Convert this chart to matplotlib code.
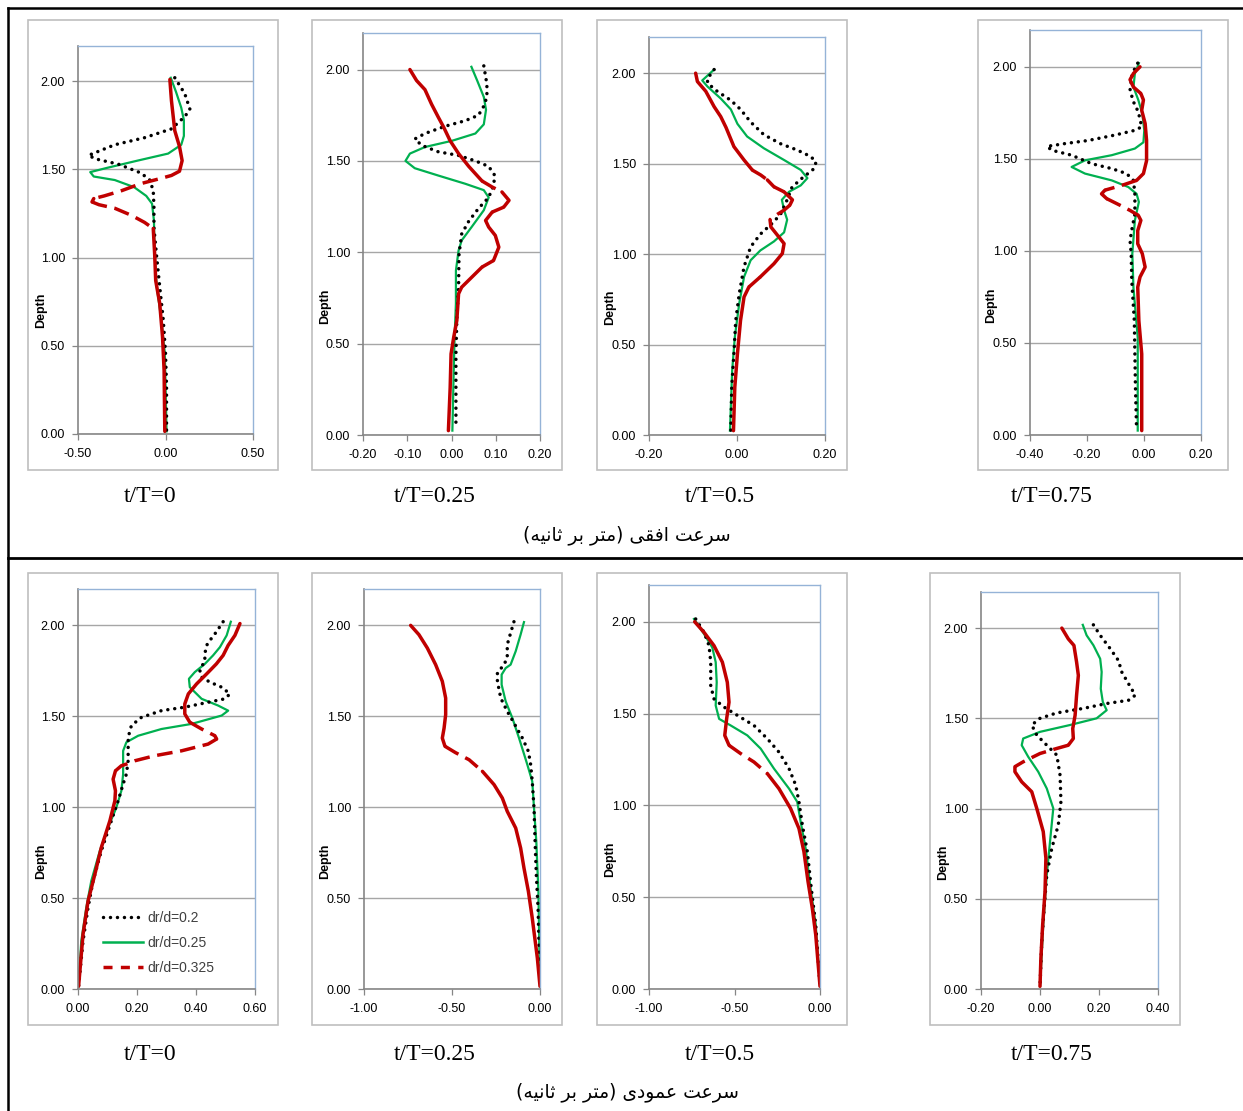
import matplotlib
matplotlib.use("Agg")
import matplotlib.pyplot as plt
import numpy as np
from matplotlib.lines import Line2D
from matplotlib.patches import Rectangle

# ---- horizontal velocity (top row) ----
u0_a_x = [0.053, 0.11, 0.14, 0.11, 0.034, -0.12, -0.29, -0.44, -0.40, -0.27, -0.14, -0.09, -0.07, -0.066, -0.066, -0.052, -0.033, -0.013, 0.0, 0.006, 0.006]
u0_a_d = [2.02, 1.93, 1.84, 1.80, 1.73, 1.68, 1.64, 1.58, 1.56, 1.53, 1.48, 1.44, 1.38, 1.29, 1.17, 1.02, 0.835, 0.65, 0.46, 0.27, 0.015]
u0_b_x = [0.03, 0.06, 0.09, 0.105, 0.105, 0.09, 0.015, -0.16, -0.33, -0.43, -0.41, -0.29, -0.18, -0.11, -0.077, -0.066, -0.062, -0.05, -0.024, -0.004, 0.006]
u0_b_d = [2.02, 1.94, 1.85, 1.78, 1.69, 1.64, 1.59, 1.55, 1.51, 1.485, 1.46, 1.44, 1.40, 1.35, 1.306, 1.21, 1.02, 0.835, 0.65, 0.46, 0.015]
u0_c_x = [0.025, 0.034, 0.053, 0.08, 0.095, 0.08, 0.034, -0.024, -0.14, -0.25, -0.35, -0.41, -0.42, -0.38, -0.29, -0.195, -0.12, -0.07, -0.062, -0.056, -0.033, -0.017, -0.008, -0.004]
u0_c_d = [2.01, 1.89, 1.72, 1.63, 1.55, 1.49, 1.466, 1.45, 1.42, 1.38, 1.35, 1.335, 1.316, 1.30, 1.28, 1.24, 1.20, 1.165, 1.02, 0.87, 0.74, 0.55, 0.36, 0.015]

u25_a_x = [0.073, 0.080, 0.080, 0.073, 0.061, 0.031, -0.014, -0.06, -0.083, -0.067, -0.03, 0.016, 0.054, 0.084, 0.098, 0.095, 0.084, 0.061, 0.039, 0.023, 0.017, 0.016, 0.012, 0.01, 0.01, 0.01]
u25_a_d = [2.02, 1.92, 1.85, 1.80, 1.75, 1.72, 1.69, 1.65, 1.62, 1.585, 1.55, 1.53, 1.50, 1.47, 1.42, 1.366, 1.30, 1.24, 1.17, 1.10, 0.99, 0.81, 0.63, 0.44, 0.26, 0.04]
u25_b_x = [0.045, 0.058, 0.073, 0.078, 0.073, 0.054, 0.001, -0.06, -0.094, -0.104, -0.083, -0.03, 0.031, 0.073, 0.084, 0.073, 0.046, 0.023, 0.016, 0.01, 0.01, 0.007, 0.005, 0.002]
u25_b_d = [2.015, 1.94, 1.85, 1.78, 1.70, 1.65, 1.61, 1.576, 1.54, 1.50, 1.46, 1.42, 1.375, 1.34, 1.30, 1.23, 1.14, 1.065, 1.01, 0.90, 0.72, 0.535, 0.35, 0.024]
u25_c_x = [-0.094, -0.079, -0.06, -0.045, -0.03, -0.018, -0.003, 0.016, 0.039, 0.069, 0.092, 0.114, 0.13, 0.118, 0.092, 0.077, 0.084, 0.099, 0.107, 0.095, 0.069, 0.046, 0.023, 0.016, 0.012, 0.005, -0.001, -0.003, -0.007]
u25_c_d = [2.00, 1.94, 1.89, 1.81, 1.74, 1.686, 1.61, 1.54, 1.47, 1.39, 1.357, 1.33, 1.284, 1.247, 1.22, 1.174, 1.138, 1.092, 1.028, 0.955, 0.919, 0.864, 0.809, 0.773, 0.626, 0.535, 0.444, 0.26, 0.024]

u50_a_x = [-0.052, -0.067, -0.067, -0.045, -0.014, 0.008, 0.031, 0.061, 0.099, 0.137, 0.167, 0.18, 0.174, 0.148, 0.125, 0.114, 0.099, 0.08, 0.053, 0.031, 0.016, 0.005, -0.003, -0.007, -0.012, -0.014]
u50_a_d = [2.02, 1.97, 1.945, 1.90, 1.85, 1.80, 1.73, 1.66, 1.61, 1.575, 1.54, 1.51, 1.47, 1.42, 1.37, 1.30, 1.22, 1.17, 1.11, 1.04, 0.93, 0.78, 0.63, 0.45, 0.264, 0.024]
u50_b_x = [-0.052, -0.079, -0.067, -0.037, -0.014, 0.001, 0.023, 0.061, 0.107, 0.145, 0.16, 0.145, 0.118, 0.102, 0.107, 0.114, 0.107, 0.084, 0.053, 0.031, 0.016, 0.005, -0.005, -0.011, -0.016]
u50_b_d = [2.02, 1.96, 1.926, 1.86, 1.80, 1.72, 1.65, 1.585, 1.52, 1.465, 1.42, 1.38, 1.344, 1.30, 1.243, 1.19, 1.12, 1.07, 1.02, 0.966, 0.874, 0.726, 0.54, 0.356, 0.024]
u50_c_x = [-0.094, -0.09, -0.071, -0.052, -0.037, -0.025, -0.007, 0.016, 0.035, 0.054, 0.069, 0.084, 0.107, 0.126, 0.12, 0.107, 0.092, 0.075, 0.077, 0.095, 0.107, 0.103, 0.084, 0.053, 0.027, 0.016, 0.008, 0.001, -0.005, -0.008]
u50_c_d = [2.00, 1.954, 1.90, 1.815, 1.76, 1.70, 1.594, 1.52, 1.464, 1.437, 1.41, 1.372, 1.344, 1.30, 1.27, 1.243, 1.22, 1.19, 1.15, 1.095, 1.058, 1.003, 0.947, 0.874, 0.818, 0.763, 0.633, 0.449, 0.264, 0.024]

u75_a_x = [-0.022, -0.041, -0.049, -0.037, -0.02, -0.008, -0.032, -0.10, -0.195, -0.277, -0.34, -0.324, -0.254, -0.184, -0.113, -0.061, -0.037, -0.032, -0.032, -0.041, -0.049, -0.045, -0.043, -0.034, -0.032, -0.03, -0.026]
u75_a_d = [2.02, 1.964, 1.873, 1.81, 1.755, 1.674, 1.655, 1.63, 1.60, 1.583, 1.568, 1.547, 1.52, 1.474, 1.447, 1.42, 1.383, 1.31, 1.20, 1.13, 1.057, 0.985, 0.84, 0.62, 0.44, 0.26, 0.024]
u75_b_x = [-0.018, -0.032, -0.037, -0.02, -0.006, 0.001, -0.002, -0.032, -0.113, -0.207, -0.254, -0.207, -0.113, -0.055, -0.026, -0.018, -0.032, -0.041, -0.037, -0.022, -0.022]
u75_b_d = [2.02, 1.964, 1.89, 1.82, 1.746, 1.655, 1.59, 1.556, 1.52, 1.492, 1.456, 1.42, 1.383, 1.347, 1.31, 1.266, 1.166, 0.985, 0.80, 0.53, 0.024]
u75_c_x = [-0.014, -0.037, -0.049, -0.037, -0.011, -0.002, -0.008, 0.004, 0.009, 0.009, -0.002, -0.026, -0.078, -0.137, -0.149, -0.131, -0.084, -0.049, -0.02, -0.011, -0.022, -0.022, -0.006, 0.004, -0.014, -0.022, -0.018, -0.008, -0.008]
u75_c_d = [2.00, 1.964, 1.93, 1.89, 1.855, 1.82, 1.764, 1.692, 1.60, 1.49, 1.42, 1.383, 1.356, 1.33, 1.31, 1.284, 1.248, 1.22, 1.193, 1.166, 1.11, 1.039, 0.985, 0.912, 0.858, 0.803, 0.62, 0.44, 0.024]

# ---- vertical velocity (bottom row) ----
w0_a_x = [0.492, 0.469, 0.447, 0.436, 0.43, 0.43, 0.413, 0.419, 0.447, 0.487, 0.515, 0.498, 0.441, 0.362, 0.283, 0.215, 0.181, 0.17, 0.17, 0.164, 0.153, 0.136, 0.113, 0.079, 0.051, 0.034, 0.017, 0.002]
w0_a_d = [2.02, 1.964, 1.917, 1.89, 1.844, 1.807, 1.752, 1.715, 1.688, 1.66, 1.623, 1.596, 1.577, 1.55, 1.531, 1.494, 1.449, 1.384, 1.255, 1.182, 1.127, 1.035, 0.925, 0.76, 0.594, 0.447, 0.263, 0.015]
w0_b_x = [0.518, 0.504, 0.481, 0.458, 0.43, 0.396, 0.376, 0.379, 0.419, 0.475, 0.509, 0.487, 0.385, 0.283, 0.204, 0.164, 0.153, 0.153, 0.147, 0.13, 0.102, 0.074, 0.045, 0.028, 0.011, 0.002]
w0_b_d = [2.02, 1.945, 1.88, 1.835, 1.788, 1.743, 1.706, 1.66, 1.596, 1.559, 1.531, 1.504, 1.458, 1.43, 1.393, 1.357, 1.31, 1.182, 1.09, 0.998, 0.888, 0.76, 0.594, 0.447, 0.263, 0.015]
w0_c_x = [0.549, 0.532, 0.509, 0.492, 0.469, 0.436, 0.402, 0.374, 0.362, 0.362, 0.379, 0.419, 0.464, 0.47, 0.441, 0.351, 0.26, 0.192, 0.164, 0.147, 0.127, 0.119, 0.127, 0.125, 0.108, 0.079, 0.057, 0.034, 0.017, 0.002]
w0_c_d = [2.01, 1.945, 1.89, 1.835, 1.788, 1.733, 1.678, 1.623, 1.568, 1.513, 1.467, 1.43, 1.393, 1.375, 1.347, 1.31, 1.283, 1.255, 1.237, 1.228, 1.20, 1.154, 1.09, 1.035, 0.925, 0.778, 0.63, 0.483, 0.30, 0.015]

w25_a_x = [-0.148, -0.167, -0.186, -0.186, -0.205, -0.242, -0.242, -0.223, -0.186, -0.148, -0.10, -0.066, -0.053, -0.044, -0.034, -0.028, -0.021, -0.011, -0.006, 0.0]
w25_a_d = [2.02, 1.958, 1.894, 1.82, 1.784, 1.738, 1.692, 1.60, 1.527, 1.463, 1.38, 1.307, 1.234, 1.142, 0.995, 0.812, 0.629, 0.445, 0.262, 0.015]
w25_b_x = [-0.091, -0.11, -0.138, -0.167, -0.195, -0.218, -0.218, -0.195, -0.157, -0.119, -0.072, -0.044, -0.034, -0.021, -0.009, 0.0]
w25_b_d = [2.018, 1.95, 1.858, 1.784, 1.765, 1.729, 1.674, 1.582, 1.49, 1.38, 1.234, 1.142, 0.995, 0.812, 0.537, 0.015]
w25_c_x = [-0.735, -0.688, -0.64, -0.593, -0.555, -0.536, -0.536, -0.545, -0.555, -0.54, -0.48, -0.403, -0.327, -0.261, -0.214, -0.186, -0.138, -0.11, -0.091, -0.066, -0.044, -0.015, 0.0]
w25_c_d = [2.00, 1.949, 1.875, 1.784, 1.692, 1.60, 1.509, 1.435, 1.38, 1.335, 1.30, 1.261, 1.197, 1.124, 1.05, 0.977, 0.885, 0.775, 0.665, 0.537, 0.39, 0.17, 0.015]

w50_a_x = [-0.727, -0.678, -0.649, -0.639, -0.639, -0.62, -0.561, -0.483, -0.386, -0.308, -0.24, -0.181, -0.142, -0.123, -0.103, -0.074, -0.051, -0.025, 0.0]
w50_a_d = [2.015, 1.942, 1.87, 1.78, 1.652, 1.58, 1.535, 1.49, 1.435, 1.363, 1.29, 1.20, 1.11, 1.019, 0.892, 0.748, 0.548, 0.35, 0.015]
w50_b_x = [-0.737, -0.678, -0.63, -0.61, -0.604, -0.61, -0.59, -0.522, -0.425, -0.347, -0.269, -0.181, -0.133, -0.113, -0.084, -0.055, -0.025, 0.0]
w50_b_d = [2.015, 1.933, 1.86, 1.78, 1.67, 1.544, 1.471, 1.435, 1.381, 1.309, 1.20, 1.091, 1.019, 0.91, 0.766, 0.548, 0.35, 0.015]
w50_c_x = [-0.733, -0.678, -0.62, -0.571, -0.542, -0.532, -0.546, -0.557, -0.532, -0.464, -0.386, -0.308, -0.24, -0.172, -0.123, -0.094, -0.07, -0.045, -0.025, 0.0]
w50_c_d = [2.00, 1.942, 1.87, 1.78, 1.67, 1.562, 1.471, 1.381, 1.327, 1.282, 1.236, 1.173, 1.091, 0.983, 0.874, 0.748, 0.585, 0.44, 0.295, 0.015]

w75_a_x = [0.181, 0.204, 0.238, 0.266, 0.277, 0.30, 0.323, 0.30, 0.226, 0.147, 0.057, 0.0, -0.028, -0.011, 0.023, 0.057, 0.068, 0.071, 0.062, 0.04, 0.023, 0.014, 0.006, 0.0]
w75_a_d = [2.018, 1.96, 1.886, 1.82, 1.757, 1.692, 1.628, 1.60, 1.582, 1.555, 1.53, 1.50, 1.463, 1.407, 1.351, 1.296, 1.185, 1.038, 0.909, 0.78, 0.633, 0.448, 0.264, 0.015]
w75_b_x = [0.145, 0.158, 0.181, 0.204, 0.209, 0.206, 0.213, 0.226, 0.192, 0.102, 0.0, -0.057, -0.062, -0.04, -0.006, 0.023, 0.045, 0.034, 0.023, 0.011, 0.0]
w75_b_d = [2.018, 1.96, 1.905, 1.83, 1.757, 1.664, 1.59, 1.545, 1.50, 1.463, 1.425, 1.388, 1.351, 1.287, 1.204, 1.111, 1.001, 0.817, 0.633, 0.356, 0.015]
w75_c_x = [0.074, 0.096, 0.115, 0.124, 0.13, 0.124, 0.119, 0.111, 0.113, 0.096, 0.057, 0.0, -0.057, -0.085, -0.085, -0.062, -0.028, -0.011, 0.011, 0.02, 0.017, 0.009, 0.003, 0.0]
w75_c_d = [2.00, 1.94, 1.904, 1.812, 1.738, 1.628, 1.517, 1.443, 1.388, 1.351, 1.333, 1.305, 1.259, 1.232, 1.204, 1.148, 1.093, 1.001, 0.872, 0.725, 0.54, 0.356, 0.171, 0.015]

series_names = ["dr/d=0.2", "dr/d=0.25", "dr/d=0.325"]
phase_labels = ["t/T=0", "t/T=0.25", "t/T=0.5", "t/T=0.75"]

# Persian captions, written in presentation forms / visual order (no shaping engine here)
title_u = ("(\uFEEA\uFEF4\uFEE7\uFE8E\uFE9B \uFEAE\uFE91 \uFEAE\uFE98\uFEE3) "
           "\uFEF0\uFED8\uFED3\uFE8D \uFE96\uFECB\uFEAE\uFEB3")
title_w = ("(\uFEEA\uFEF4\uFEE7\uFE8E\uFE9B \uFEAE\uFE91 \uFEAE\uFE98\uFEE3) "
           "\uFEEF\uFEA9\uFEEE\uFEE4\uFECB \uFE96\uFECB\uFEAE\uFEB3")

top_series = [(u0_a_x, u0_a_d, u0_b_x, u0_b_d, u0_c_x, u0_c_d),
              (u25_a_x, u25_a_d, u25_b_x, u25_b_d, u25_c_x, u25_c_d),
              (u50_a_x, u50_a_d, u50_b_x, u50_b_d, u50_c_x, u50_c_d),
              (u75_a_x, u75_a_d, u75_b_x, u75_b_d, u75_c_x, u75_c_d)]
bot_series = [(w0_a_x, w0_a_d, w0_b_x, w0_b_d, w0_c_x, w0_c_d),
              (w25_a_x, w25_a_d, w25_b_x, w25_b_d, w25_c_x, w25_c_d),
              (w50_a_x, w50_a_d, w50_b_x, w50_b_d, w50_c_x, w50_c_d),
              (w75_a_x, w75_a_d, w75_b_x, w75_b_d, w75_c_x, w75_c_d)]

# layout in pixels: chart box, plot area, x range / step
W, H = 1243, 1111
top_boxes = [(28, 20, 278, 470), (312, 20, 562, 470), (597, 20, 847, 470), (978, 20, 1228, 470)]
top_plots = [(78, 46, 253, 434), (363, 33, 540, 435), (649, 37, 825, 435), (1030, 30, 1201, 435)]
top_xr = [(-0.5, 0.5, 0.5), (-0.2, 0.2, 0.1), (-0.2, 0.2, 0.2), (-0.4, 0.2, 0.2)]
bot_boxes = [(28, 573, 278, 1025), (312, 573, 562, 1025), (597, 573, 847, 1025), (930, 573, 1180, 1025)]
bot_plots = [(78, 589, 255, 989), (364, 589, 540, 989), (649, 585, 820, 989), (981, 592, 1158, 989)]
bot_xr = [(0.0, 0.6, 0.2), (-1.0, 0.0, 0.5), (-1.0, 0.0, 0.5), (-0.2, 0.4, 0.2)]
label_x = [150, 435, 720, 1052]

RED = "#C00000"
GREEN = "#00B050"
DOTS = dict(color="black", lw=2.5, linestyle=(0, (0.01, 2.0)), dash_capstyle="round")
RED_DASH = (0, (4.5, 2.2))

plt.rcParams["font.family"] = ["Liberation Sans", "DejaVu Sans"]
plt.rcParams["axes.unicode_minus"] = False
fig = plt.figure(figsize=(W / 100, H / 100), dpi=100)


def fx(px):
    return px / W


def fy(py):
    return 1 - py / H


def draw_red(ax, x, d):
    # Excel restarts the dash on each segment: steep parts look solid, flat parts dashed
    pts = ax.transData.transform(np.column_stack([x, d]))
    dx = np.abs(np.diff(pts[:, 0]))
    dy = np.abs(np.diff(pts[:, 1]))
    flat = dx > 1.1 * dy
    i = 0
    n = len(flat)
    while i < n:
        j = i
        while j + 1 < n and flat[j + 1] == flat[i]:
            j += 1
        ls = RED_DASH if flat[i] else "-"
        ax.plot(x[i:j + 2], d[i:j + 2], color=RED, lw=2.5, linestyle=ls,
                solid_capstyle="round", dash_capstyle="butt")
        i = j + 1


def panel(box, plot, xr, series, with_legend=False):
    bl, bt, br, bb = box
    fig.patches.append(Rectangle((fx(bl), fy(bb)), fx(br - bl), (bb - bt) / H,
                                 transform=fig.transFigure, facecolor="white",
                                 edgecolor="#BFBFBF", lw=1.2, zorder=-5))
    pl, pt, pr, pb = plot
    ax = fig.add_axes([fx(pl), fy(pb), fx(pr - pl), (pb - pt) / H], zorder=2)
    ax.patch.set_alpha(0)
    ax.set_xlim(xr[0], xr[1])
    ax.set_ylim(0, 2.2)
    ax.set_xticks(np.round(np.arange(xr[0], xr[1] + 1e-9, xr[2]), 2))
    ax.set_yticks([0, 0.5, 1.0, 1.5, 2.0])
    ax.xaxis.set_major_formatter("{x:.2f}")
    ax.yaxis.set_major_formatter("{x:.2f}")
    ax.tick_params(labelsize=9, length=4.3, width=0.9, color="#868686")
    ax.tick_params(axis="x", pad=6)
    ax.tick_params(axis="y", pad=5)
    ax.grid(axis="y", color="#A6A6A6", lw=1.0)
    ax.set_axisbelow(True)
    for s in ("left", "bottom"):
        ax.spines[s].set_color("#868686")
        ax.spines[s].set_linewidth(1.2)
    for s in ("top", "right"):
        ax.spines[s].set_color("#95B3D7")
        ax.spines[s].set_linewidth(1.0)
    ax.set_ylabel("Depth", fontsize=9, fontweight="bold")
    ax.yaxis.set_label_coords((bl + 19 - pl) / (pr - pl), 0.32)

    ax_, ad, bx, bd, cx, cd = [np.asarray(v) for v in series]
    ax.plot(bx, bd, color=GREEN, lw=1.6)
    ax.plot(ax_, ad, **DOTS)
    draw_red(ax, cx, cd)

    if with_legend:
        handles = [Line2D([], [], **DOTS),
                   Line2D([], [], color=GREEN, lw=1.8),
                   Line2D([], [], color=RED, lw=2.5, linestyle=(0, (2.6, 2.4)))]
        ax.legend(handles, series_names, loc="lower left",
                  bbox_to_anchor=((103 - pl) / (pr - pl), 0.035),
                  frameon=False, fontsize=10, handlelength=2.9, handletextpad=0.3,
                  labelspacing=0.8, labelcolor="#404040", borderpad=0, borderaxespad=0)
    return ax


for k in range(4):
    panel(top_boxes[k], top_plots[k], top_xr[k], top_series[k])
    panel(bot_boxes[k], bot_plots[k], bot_xr[k], bot_series[k], with_legend=(k == 0))
    fig.text(fx(label_x[k]), fy(496), phase_labels[k], ha="center", va="center",
             fontsize=17, family="Liberation Serif")
    fig.text(fx(label_x[k]), fy(1054), phase_labels[k], ha="center", va="center",
             fontsize=17, family="Liberation Serif")

fig.text(fx(627), fy(535), title_u, ha="center", va="center", fontsize=13.5, family="DejaVu Sans")
fig.text(fx(627), fy(1092), title_w, ha="center", va="center", fontsize=13.5, family="DejaVu Sans")

# outer frame and separator
fig.add_artist(Line2D([fx(8), fx(8)], [fy(8), 0], color="black", lw=1.8, transform=fig.transFigure))
fig.add_artist(Line2D([fx(8), 1], [fy(8), fy(8)], color="black", lw=1.8, transform=fig.transFigure))
fig.add_artist(Line2D([fx(8), 1], [fy(558), fy(558)], color="black", lw=2.0, transform=fig.transFigure))

fig.savefig("out.png", dpi=100, facecolor="white")
